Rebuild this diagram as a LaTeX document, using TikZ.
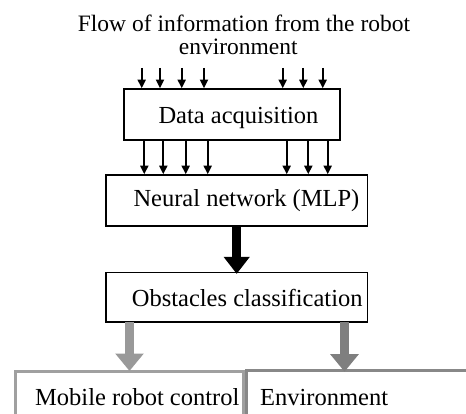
\documentclass[tikz,border=0pt]{standalone}
\usepackage{fontspec}
\setmainfont{Liberation Serif}
\usetikzlibrary{arrows.meta}
\definecolor{lightarrow}{HTML}{999999}
\definecolor{darkarrow}{HTML}{7F7F7F}
\definecolor{lightframe}{HTML}{A0A0A0}
\definecolor{darkframe}{HTML}{888888}
\tikzset{
  blockbox/.style={draw=black, line width=1.6pt, rectangle, inner sep=0pt},
  lowbox/.style={rectangle, line width=3pt, inner sep=0pt},
  lbl/.style={anchor=base west, inner sep=0pt, font=\fontsize{24.5}{26}\selectfont},
  ttl/.style={anchor=base, inner sep=0pt, font=\fontsize{23.5}{25}\selectfont},
  flow/.style={line width=1.7pt, -{Triangle[width=8pt,length=8.5pt]}},
  fatarrow/.style={line width=9.3pt, -{Triangle[width=25pt,length=17pt]}},
  greyarrow/.style={line width=9pt, -{Triangle[width=27.5pt,length=17.5pt]}},
}
\begin{document}
\begin{tikzpicture}[x=1pt,y=-1pt]
  \useasboundingbox (0,0) rectangle (466,414);
  % title
  \node[ttl] (t1) at (244,31.7) {Flow of information from the robot};
  \node[ttl] (t2) at (238.3,55) {environment};
  % main blocks
  \node[blockbox, minimum width=216pt, minimum height=51pt] (acq) at (232,114.5) {};
  \node[blockbox, minimum width=261.5pt, minimum height=51pt] (nn) at (236.7,200.5) {};
  \node[blockbox, minimum width=261.7pt, minimum height=49pt] (obs) at (236.8,297.2) {};
  \node[lowbox, draw=lightframe, minimum width=227.8pt, minimum height=80pt] (ctrl) at (129.4,411) {};
  \node[lowbox, draw=darkframe, minimum width=240pt, minimum height=80pt] (env) at (366.7,410.7) {};
  % labels
  \node[lbl] (lacq) at (158.3,124) {Data acquisition};
  \node[lbl] (lnn) at (133.3,207) {Neural network (MLP)};
  \node[lbl] (lobs) at (131.7,306) {Obstacles classification};
  \node[lbl] (lctrl) at (35,405) {Mobile robot control};
  \node[lbl] (lenv) at (260,405) {Environment};
  % incoming information
  \foreach \x [count=\i] in {141.7,160,181.7,204,282.7,303.3,322.7} {
    \coordinate (in\i) at (\x,68);
    \draw[flow] (in\i) -- (in\i |- acq.north);
  }
  % acquisition to network
  \foreach \x [count=\i] in {144.3,163.3,185.7,207.7,286.7,308.3,327.7} {
    \coordinate (mid\i) at (\x,0);
    \draw[flow] (mid\i |- acq.south) -- (mid\i |- nn.north);
  }
  % network to classification
  \coordinate (fa) at (236.7,0);
  \draw[fatarrow] (fa |- nn.south) -- ([yshift=-2pt]fa |- obs.north);
  % classification to outputs
  \coordinate (ga) at (129.5,0);
  \coordinate (gb) at (344.5,0);
  \draw[greyarrow, draw=lightarrow, fill=lightarrow]
    ([yshift=1pt]ga |- obs.south) -- ([yshift=-1.5pt]ga |- ctrl.north);
  \draw[greyarrow, draw=darkarrow, fill=darkarrow]
    ([yshift=1pt]gb |- obs.south) -- ([yshift=-2.5pt]gb |- env.north);
\end{tikzpicture}
\end{document}
